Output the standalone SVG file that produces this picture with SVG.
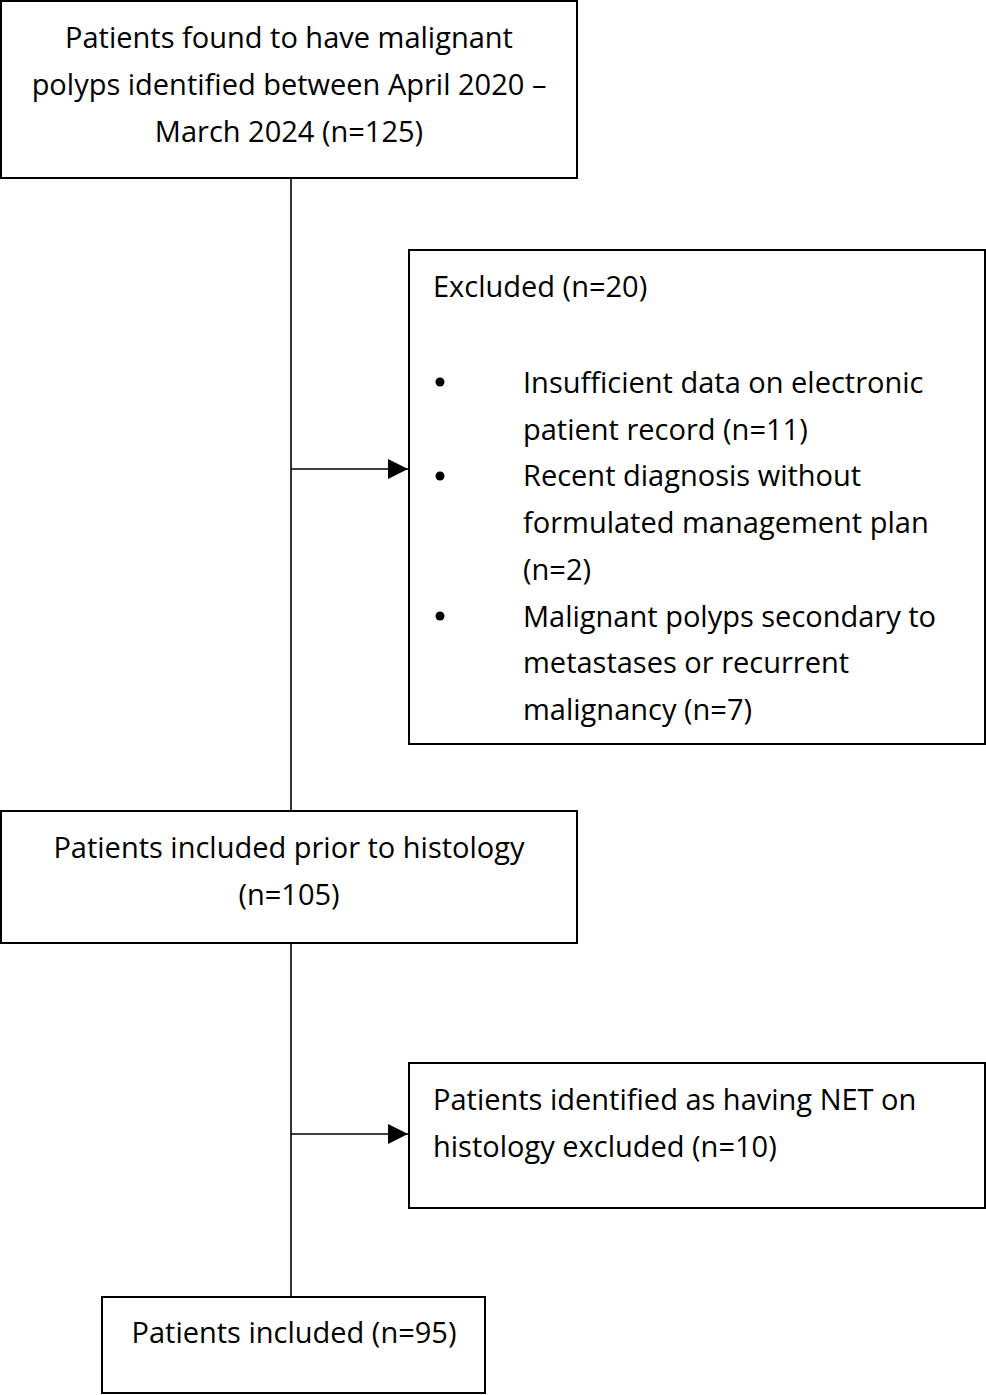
<svg xmlns="http://www.w3.org/2000/svg" width="986" height="1395" viewBox="0 0 986 1395">
<style>
.box{fill:#fff;stroke:#000;stroke-width:2}
.ln{stroke:#000;stroke-width:1.6;fill:none}
text{font-family:"Open Sans",Lato,"Liberation Sans",sans-serif;font-size:29px;fill:#000}
.c{text-anchor:middle}
</style>
<defs>
<marker id="ah2" markerWidth="20" markerHeight="20" refX="20" refY="10" orient="auto" markerUnits="userSpaceOnUse" viewBox="0 0 20 20">
<path d="M0,0 L20,10 L0,20 Z" fill="#000"/>
</marker>
</defs>
<g id="connectors">
<line class="ln" x1="291" y1="178" x2="291" y2="811"/>
<line class="ln" x1="291" y1="469" x2="408" y2="469" marker-end="url(#ah2)"/>
<line class="ln" x1="291" y1="943" x2="291" y2="1297"/>
<line class="ln" x1="291" y1="1134" x2="408" y2="1134" marker-end="url(#ah2)"/>
</g>
<g id="n1">
<rect class="box" x="1" y="1" width="576" height="177"/>
<text class="c" x="289" y="48">Patients found to have malignant</text>
<text class="c" x="289" y="95">polyps identified between April 2020 –</text>
<text class="c" x="289" y="142">March 2024 (n=125)</text>
</g>
<g id="n2">
<rect class="box" x="409" y="250" width="576" height="494"/>
<text x="433" y="297">Excluded (n=20)</text>
<circle cx="440" cy="382" r="4.5"/>
<text x="523" y="393">Insufficient data on electronic</text>
<text x="523" y="440">patient record (n=11)</text>
<circle cx="440" cy="476" r="4.5"/>
<text x="523" y="486">Recent diagnosis without</text>
<text x="523" y="533">formulated management plan</text>
<text x="523" y="580">(n=2)</text>
<circle cx="440" cy="616" r="4.5"/>
<text x="523" y="627">Malignant polyps secondary to</text>
<text x="523" y="673">metastases or recurrent</text>
<text x="523" y="720">malignancy (n=7)</text>
</g>
<g id="n3">
<rect class="box" x="1" y="811" width="576" height="132"/>
<text class="c" x="289" y="858">Patients included prior to histology</text>
<text class="c" x="289" y="905">(n=105)</text>
</g>
<g id="n4">
<rect class="box" x="409" y="1063" width="576" height="145"/>
<text x="433" y="1110">Patients identified as having NET on</text>
<text x="433" y="1157">histology excluded (n=10)</text>
</g>
<g id="n5">
<rect class="box" x="102" y="1297" width="383" height="96"/>
<text class="c" x="294" y="1343">Patients included (n=95)</text>
</g>
</svg>
